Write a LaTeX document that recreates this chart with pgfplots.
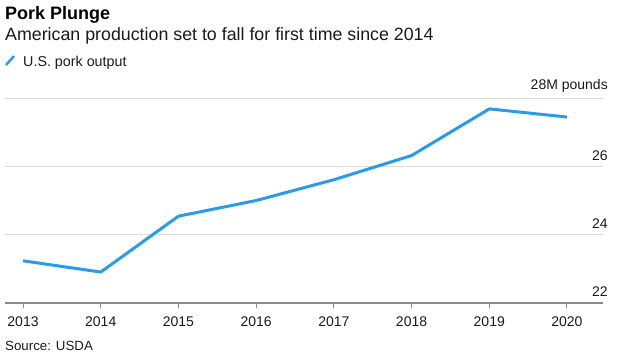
\documentclass[border=0pt]{standalone}
\usepackage{pgfplots}
\pgfplotsset{compat=1.18}
\usepackage{fontspec}
\setmainfont{Liberation Sans}
\definecolor{lineblue}{HTML}{2A9BEB}
\definecolor{gridgray}{HTML}{DCDCDC}
\definecolor{axisgray}{HTML}{8A8A8A}
\definecolor{textdark}{HTML}{1A1A1A}
\begin{document}
\begin{tikzpicture}
\useasboundingbox (0,0) rectangle (624pt,-360pt);
\node[anchor=base west, inner sep=0pt, text=black, font=\fontsize{18}{20}\selectfont\bfseries] at (5pt,-19.5pt) {Pork Plunge};
\node[anchor=base west, inner sep=0pt, text=textdark, font=\fontsize{17.8}{19}\selectfont] at (5pt,-40.5pt) {American production set to fall for first time since 2014};
\draw[lineblue, line width=2.5pt] (6pt,-65pt) -- (14pt,-56pt);
\node[anchor=base west, inner sep=0pt, text=textdark, font=\fontsize{14.3}{16}\selectfont] at (23pt,-66pt) {U.S. pork output};
\node[anchor=base west, inner sep=0pt, text=textdark, font=\fontsize{13.3}{15}\selectfont] at (5pt,-350pt) {Source: USDA};
\begin{axis}[
 anchor=south west, at={(5pt,-302.7pt)},
 scale only axis, width=598pt, height=204.4pt,
 xmin=2012.768, xmax=2020.463, ymin=22, ymax=28,
 axis x line*=bottom, axis y line*=right,
 y axis line style={draw=none},
 x axis line style={axisgray, line width=1.6pt, -},
 xtick={2013,...,2020}, ytick={22,24,26,28},
 yticklabels={22,24,26,28M pounds},
 ymajorgrids, grid style={gridgray, line width=0.9pt},
 tick align=outside,
 major tick length=5pt,
 xtick style={axisgray, line width=1pt},
 ytick style={draw=none},
 /pgf/number format/assume math mode=true,
 /pgf/number format/1000 sep={},
 xticklabel style={font=\fontsize{14}{16}\selectfont, text=textdark, anchor=north, inner sep=0pt, yshift=-8.5pt},
 yticklabel style={font=\fontsize{14}{16}\selectfont, text=textdark, anchor=south east, inner sep=0pt, yshift=6pt},
 clip=false,
]
\addplot[lineblue, line width=3pt, line join=round] coordinates {
 (2013,23.23) (2014,22.90) (2015,24.54) (2016,25.00) (2017,25.61) (2018,26.32) (2019,27.69) (2020,27.45)
};
\end{axis}
\end{tikzpicture}
\end{document}
